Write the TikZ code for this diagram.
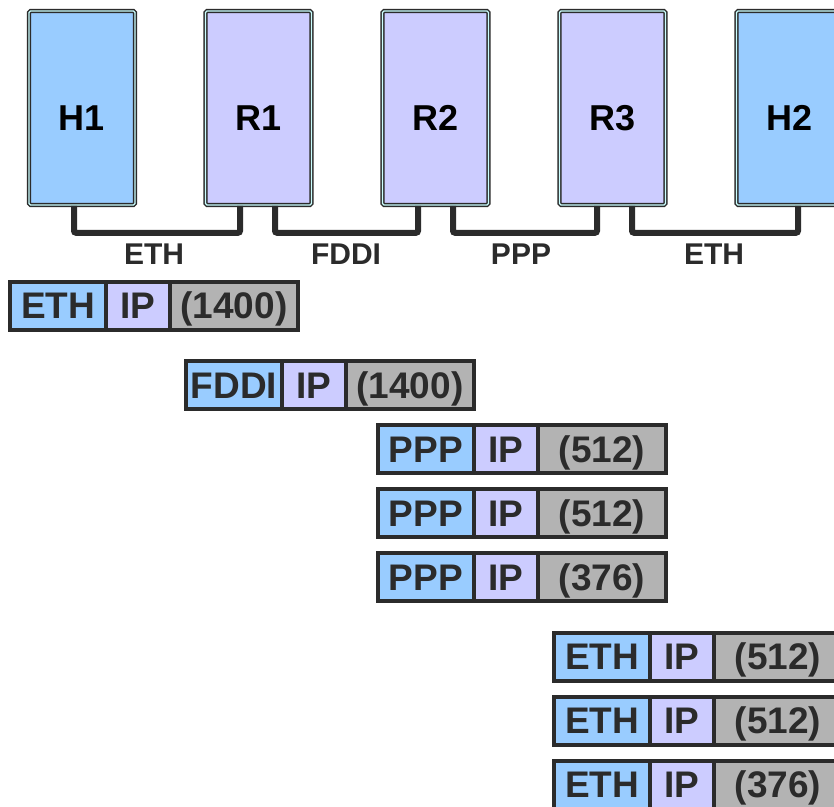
\documentclass[tikz,border=0pt]{standalone}
\usepackage{fontspec}
\setmainfont{Liberation Sans}
\definecolor{hostblue}{HTML}{99CCFF}
\definecolor{lav}{HTML}{CCCCFF}
\definecolor{paygray}{HTML}{B3B3B3}
\definecolor{edge}{HTML}{2B2B2B}
\definecolor{cyanl}{HTML}{CCFFFF}
\begin{document}
\begin{tikzpicture}[x=1pt,y=-1pt,
  dev/.style={draw=edge, double=cyanl, double distance=1.2pt, line width=1.5pt,
    rounded corners=1.5pt, minimum width=106pt, minimum height=194pt, inner sep=0pt,
    font=\fontsize{36}{36}\selectfont\bfseries, text=black,
    text height=44pt, text depth=0pt},
  host/.style={dev, fill=hostblue},
  router/.style={dev, fill=lav},
  link/.style={draw=edge, line width=6pt, rounded corners=2pt},
  lbl/.style={font=\fontsize{30}{30}\selectfont\bfseries, text=edge, inner sep=0pt,
    text height=21.5pt, text depth=0pt},
  seg/.style={draw=edge, line width=4pt, minimum height=48pt, inner sep=0pt,
    font=\fontsize{37}{37}\selectfont\bfseries, text=edge,
    text height=26.5pt, text depth=0pt},
  hdr/.style={seg, fill=hostblue, minimum width=96pt},
  iph/.style={seg, fill=lav, minimum width=64pt},
  pay/.style={seg, fill=paygray, minimum width=128pt}]
\clip (0,0) rectangle (834,806);
% devices
\node[host]   (H1) at (82,108)    {H1};
\node[router] (R1) at (258.5,108) {R1};
\node[router] (R2) at (435.5,108) {R2};
\node[router] (R3) at (612.5,108) {R3};
\node[host]   (H2) at (789.5,108) {H2};
% links
\draw[link] ([xshift=-8pt]H1.south) -- ++(0,27) -| ([xshift=-18.5pt]R1.south);
\draw[link] ([xshift=16.5pt]R1.south) -- ++(0,27) -| ([xshift=-17.5pt]R2.south);
\draw[link] ([xshift=17.5pt]R2.south) -- ++(0,27) -| ([xshift=-15.5pt]R3.south);
\draw[link] ([xshift=19.5pt]R3.south) -- ++(0,27) -| ([xshift=8.5pt]H2.south);
\node[lbl] (L1) at (154,254) {ETH};
\node[lbl] (L2) at (346,254) {FDDI};
\node[lbl] (L3) at (521,254) {PPP};
\node[lbl] (L4) at (714,254) {ETH};
% packets
\node[hdr] (p1a) at (58,305.5) {ETH};
\node[iph] (p1b) at (138,305.5) {IP};
\node[pay] (p1c) at (234,305.5) {(1400)};
\node[hdr] (p2a) at (234,385) {FDDI};
\node[iph] (p2b) at (314,385) {IP};
\node[pay] (p2c) at (410,385) {(1400)};
\node[hdr] (p3a) at (426,449) {PPP};
\node[iph] (p3b) at (506,449) {IP};
\node[pay] (p3c) at (602,449) {(512)};
\node[hdr] (p4a) at (426,513) {PPP};
\node[iph] (p4b) at (506,513) {IP};
\node[pay] (p4c) at (602,513) {(512)};
\node[hdr] (p5a) at (426,577) {PPP};
\node[iph] (p5b) at (506,577) {IP};
\node[pay] (p5c) at (602,577) {(376)};
\node[hdr] (p6a) at (602,656.5) {ETH};
\node[iph] (p6b) at (682,656.5) {IP};
\node[pay] (p6c) at (778,656.5) {(512)};
\node[hdr] (p7a) at (602,720.5) {ETH};
\node[iph] (p7b) at (682,720.5) {IP};
\node[pay] (p7c) at (778,720.5) {(512)};
\node[hdr] (p8a) at (602,784.5) {ETH};
\node[iph] (p8b) at (682,784.5) {IP};
\node[pay] (p8c) at (778,784.5) {(376)};
\end{tikzpicture}
\end{document}
